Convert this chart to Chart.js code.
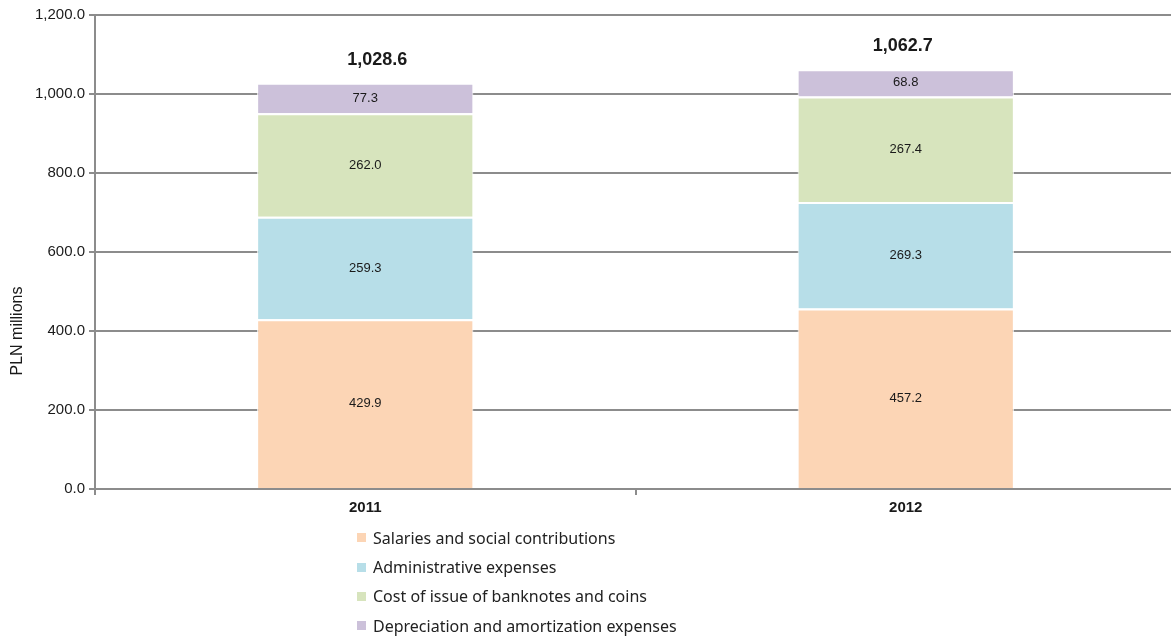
<!DOCTYPE html>
<html>
<head>
<meta charset="utf-8">
<script src="https://cdn.jsdelivr.net/npm/chart.js@4/dist/chart.umd.min.js"></script>
<style>
  html, body {
    margin: 0;
    padding: 0;
    background: #fff;
    overflow: hidden;
  }
  #wrap {
    position: relative;
    width: 1176px;
    height: 641px;
  }
  #legend {
    position: absolute;
    left: 357px;
    top: 523px;
    margin: 0;
    padding: 0;
    list-style: none;
    font-family: "Noto Sans", "Open Sans", sans-serif;
    font-size: 16px;
    color: #222;
  }
  #legend li {
    display: flex;
    align-items: center;
    height: 29.4px;
  }
  #legend span.box {
    display: inline-block;
    width: 9px;
    height: 9px;
    margin-right: 7px;
  }
</style>
</head>
<body>
<div id="wrap">
  <canvas id="chart" width="1176" height="641"></canvas>
  <ul id="legend"></ul>
</div>
<script>
const years = ["2011", "2012"];
const salaries = [429.9, 457.2];
const administrative = [259.3, 269.3];
const banknotes = [262.0, 267.4];
const depreciation = [77.3, 68.8];
const totals = [1028.6, 1062.7];
const yTicks = [0, 200, 400, 600, 800, 1000, 1200];

const seriesNames = [
  "Salaries and social contributions",
  "Administrative expenses",
  "Cost of issue of banknotes and coins",
  "Depreciation and amortization expenses",
];
const seriesColors = ["#fcd5b5", "#b7dee8", "#d7e4bd", "#ccc1da"];
const seriesData = [salaries, administrative, banknotes, depreciation];

// the total captions sit a little off the column centre
const totalNudgeX = [12, -3];

const fmt = (v) =>
  v.toLocaleString("en-US", { minimumFractionDigits: 1, maximumFractionDigits: 1 });

const gridColor = "#8c8c8c";
const textColor = "#1a1a1a";
const baseFont = "'Liberation Sans', Arial, sans-serif";

// segment values in the middle of each block, totals above each column
const valueLabels = {
  id: "valueLabels",
  afterDatasetsDraw(chart) {
    const { ctx } = chart;
    ctx.save();
    ctx.textAlign = "center";
    ctx.textBaseline = "middle";
    ctx.fillStyle = textColor;
    ctx.font = "13px " + baseFont;
    chart.data.datasets.forEach((ds, i) => {
      chart.getDatasetMeta(i).data.forEach((bar, j) => {
        const mid = (bar.y + bar.base) / 2;
        ctx.fillText(fmt(ds.data[j]), bar.x, mid);
      });
    });
    ctx.font = "bold 18px " + baseFont;
    const y = chart.scales.y;
    const firstMeta = chart.getDatasetMeta(0);
    totals.forEach((t, j) => {
      ctx.fillText(fmt(t), firstMeta.data[j].x + totalNudgeX[j], y.getPixelForValue(t) - 23);
    });
    ctx.restore();
  },
};

// rotated axis caption on the left
const axisCaption = {
  id: "axisCaption",
  afterDraw(chart) {
    const { ctx } = chart;
    ctx.save();
    ctx.translate(18, 331);
    ctx.rotate(-Math.PI / 2);
    ctx.textAlign = "center";
    ctx.textBaseline = "middle";
    ctx.fillStyle = textColor;
    ctx.font = "16px " + baseFont;
    ctx.fillText("PLN millions", 0, 0);
    ctx.restore();
  },
};

const chart = new Chart(document.getElementById("chart"), {
  type: "bar",
  data: {
    labels: years,
    datasets: seriesData.map((data, i) => ({
      label: seriesNames[i],
      data,
      backgroundColor: seriesColors[i],
      borderColor: "#ffffff",
      borderWidth: { top: 2, left: 1, right: 1, bottom: 0 },
      borderSkipped: false,
      categoryPercentage: 1,
      barPercentage: 0.4,
    })),
  },
  options: {
    responsive: false,
    animation: false,
    layout: { padding: { top: 15, left: 0, right: 0, bottom: 0 } },
    plugins: {
      legend: { display: false },
      tooltip: { enabled: false },
    },
    scales: {
      x: {
        stacked: true,
        afterFit(scale) {
          scale.height = 152;
        },
        grid: {
          drawOnChartArea: false,
          drawTicks: true,
          tickLength: 6,
          color: gridColor,
          lineWidth: 2,
          offset: true,
        },
        border: { color: gridColor, width: 2 },
        ticks: {
          color: textColor,
          padding: 4,
          font: { family: baseFont, size: 15, weight: "bold" },
        },
      },
      y: {
        stacked: true,
        min: yTicks[0],
        max: yTicks[yTicks.length - 1],
        afterFit(scale) {
          scale.width = 95;
        },
        afterBuildTicks(scale) {
          scale.ticks = yTicks.map((v) => ({ value: v }));
        },
        grid: {
          color: gridColor,
          lineWidth: 2,
          tickLength: 6,
        },
        border: { color: gridColor, width: 2 },
        ticks: {
          color: textColor,
          padding: 4,
          font: { family: baseFont, size: 15 },
          callback: (v) => fmt(v),
        },
      },
    },
  },
  plugins: [valueLabels, axisCaption],
});

// vertical legend below the axis
const legend = document.getElementById("legend");
chart.data.datasets.forEach((ds) => {
  const li = document.createElement("li");
  const box = document.createElement("span");
  box.className = "box";
  box.style.background = ds.backgroundColor;
  li.appendChild(box);
  li.appendChild(document.createTextNode(ds.label));
  legend.appendChild(li);
});
</script>
</body>
</html>
